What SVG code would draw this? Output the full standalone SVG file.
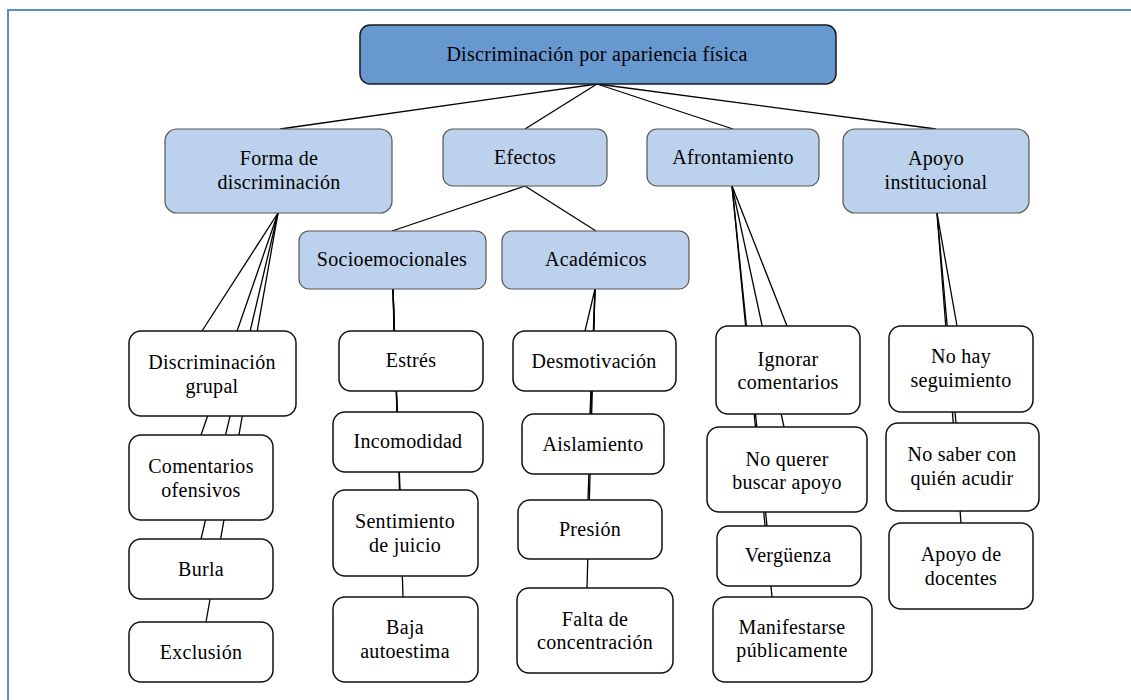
<svg xmlns="http://www.w3.org/2000/svg" width="1131" height="700" viewBox="0 0 1131 700">
<style>
.t{font-family:"Liberation Serif","Times New Roman",serif;font-size:20px;letter-spacing:0.3px;fill:#000;text-anchor:middle}
.root{fill:#6798cf;stroke:#1a1a1a;stroke-width:1.5}
.l1{fill:#bcd2ec;stroke:#555;stroke-width:1.2}
.leaf{fill:#fff;stroke:#111;stroke-width:1.5}
.c{stroke:#000;stroke-width:1.3;fill:none}
.frame{stroke:#5b8cc6;stroke-width:2;fill:none}
</style>
<rect width="1131" height="700" fill="#fff"/>
<path class="frame" d="M8 700 V10 H1131"/>
<g id="connectors">
<line class="c" x1="597" y1="84" x2="280" y2="129"/>
<line class="c" x1="597" y1="84" x2="525" y2="129"/>
<line class="c" x1="597" y1="84" x2="733" y2="129"/>
<line class="c" x1="597" y1="84" x2="936" y2="129"/>
<line class="c" x1="525" y1="186" x2="392" y2="231"/>
<line class="c" x1="525" y1="186" x2="596" y2="231"/>
<line class="c" x1="278" y1="213" x2="202" y2="331"/>
<line class="c" x1="278" y1="213" x2="201" y2="435"/>
<line class="c" x1="278" y1="213" x2="201" y2="539"/>
<line class="c" x1="278" y1="213" x2="206" y2="622"/>
<line class="c" x1="393" y1="289" x2="394" y2="331"/>
<line class="c" x1="393" y1="289" x2="397" y2="412"/>
<line class="c" x1="393" y1="289" x2="400" y2="490"/>
<line class="c" x1="393" y1="289" x2="403" y2="597"/>
<line class="c" x1="595" y1="289" x2="585" y2="331"/>
<line class="c" x1="595" y1="289" x2="590" y2="414"/>
<line class="c" x1="595" y1="289" x2="588" y2="500"/>
<line class="c" x1="595" y1="289" x2="587" y2="588"/>
<line class="c" x1="732" y1="186" x2="787" y2="326"/>
<line class="c" x1="732" y1="186" x2="784" y2="427"/>
<line class="c" x1="732" y1="186" x2="767" y2="526"/>
<line class="c" x1="732" y1="186" x2="772" y2="597"/>
<line class="c" x1="937" y1="213" x2="957" y2="326"/>
<line class="c" x1="937" y1="213" x2="956" y2="423"/>
<line class="c" x1="937" y1="213" x2="961" y2="523"/>
</g>
<g id="root"><rect class="root" x="360" y="25" width="476" height="59" rx="10"/><text class="t" x="597" y="61">Discriminación por apariencia física</text></g>
<g id="forma"><rect class="l1" x="165" y="129" width="227" height="84" rx="12"/><text class="t" x="279" y="165">Forma de</text><text class="t" x="279" y="189">discriminación</text></g>
<g id="efectos"><rect class="l1" x="443" y="129" width="164" height="57" rx="10"/><text class="t" x="525" y="164">Efectos</text></g>
<g id="afrontamiento"><rect class="l1" x="647" y="129" width="172" height="57" rx="10"/><text class="t" x="733" y="164">Afrontamiento</text></g>
<g id="apoyo"><rect class="l1" x="843" y="129" width="186" height="84" rx="12"/><text class="t" x="936" y="165">Apoyo</text><text class="t" x="936" y="189">institucional</text></g>
<g id="socio"><rect class="l1" x="299" y="231" width="187" height="58" rx="10"/><text class="t" x="392" y="266">Socioemocionales</text></g>
<g id="academicos"><rect class="l1" x="502" y="231" width="187" height="58" rx="10"/><text class="t" x="596" y="266">Académicos</text></g>
<g id="grupal"><rect class="leaf" x="129" y="331" width="167" height="85" rx="12"/><text class="t" x="212" y="369">Discriminación</text><text class="t" x="212" y="393">grupal</text></g>
<g id="comentarios"><rect class="leaf" x="129" y="435" width="144" height="85" rx="12"/><text class="t" x="201" y="473">Comentarios</text><text class="t" x="201" y="497">ofensivos</text></g>
<g id="burla"><rect class="leaf" x="129" y="539" width="144" height="60" rx="12"/><text class="t" x="201" y="576">Burla</text></g>
<g id="exclusion"><rect class="leaf" x="129" y="622" width="144" height="60" rx="12"/><text class="t" x="201" y="659">Exclusión</text></g>
<g id="estres"><rect class="leaf" x="339" y="331" width="144" height="60" rx="12"/><text class="t" x="411" y="367">Estrés</text></g>
<g id="incomodidad"><rect class="leaf" x="333" y="412" width="150" height="60" rx="12"/><text class="t" x="408" y="448">Incomodidad</text></g>
<g id="sentimiento"><rect class="leaf" x="333" y="490" width="145" height="86" rx="12"/><text class="t" x="405" y="528">Sentimiento</text><text class="t" x="405" y="552">de juicio</text></g>
<g id="baja"><rect class="leaf" x="333" y="597" width="145" height="85" rx="12"/><text class="t" x="405" y="634">Baja</text><text class="t" x="405" y="658">autoestima</text></g>
<g id="desmotivacion"><rect class="leaf" x="513" y="331" width="163" height="60" rx="12"/><text class="t" x="594" y="368">Desmotivación</text></g>
<g id="aislamiento"><rect class="leaf" x="522" y="414" width="142" height="60" rx="12"/><text class="t" x="593" y="451">Aislamiento</text></g>
<g id="presion"><rect class="leaf" x="518" y="500" width="144" height="59" rx="12"/><text class="t" x="590" y="536">Presión</text></g>
<g id="falta"><rect class="leaf" x="517" y="588" width="156" height="85" rx="12"/><text class="t" x="595" y="626">Falta de</text><text class="t" x="595" y="649">concentración</text></g>
<g id="ignorar"><rect class="leaf" x="716" y="326" width="144" height="88" rx="12"/><text class="t" x="788" y="366">Ignorar</text><text class="t" x="788" y="389">comentarios</text></g>
<g id="noquerer"><rect class="leaf" x="707" y="427" width="160" height="85" rx="12"/><text class="t" x="787" y="466">No querer</text><text class="t" x="787" y="489">buscar apoyo</text></g>
<g id="verguenza"><rect class="leaf" x="717" y="526" width="144" height="60" rx="12"/><text class="t" x="788" y="562">Vergüenza</text></g>
<g id="manifestarse"><rect class="leaf" x="713" y="597" width="159" height="85" rx="12"/><text class="t" x="792" y="634">Manifestarse</text><text class="t" x="792" y="657">públicamente</text></g>
<g id="nohay"><rect class="leaf" x="889" y="326" width="144" height="86" rx="12"/><text class="t" x="961" y="363">No hay</text><text class="t" x="961" y="387">seguimiento</text></g>
<g id="nosaber"><rect class="leaf" x="886" y="423" width="153" height="88" rx="12"/><text class="t" x="962" y="461">No saber con</text><text class="t" x="962" y="485">quién acudir</text></g>
<g id="docentes"><rect class="leaf" x="889" y="523" width="144" height="86" rx="12"/><text class="t" x="961" y="561">Apoyo de</text><text class="t" x="961" y="585">docentes</text></g>
</svg>
